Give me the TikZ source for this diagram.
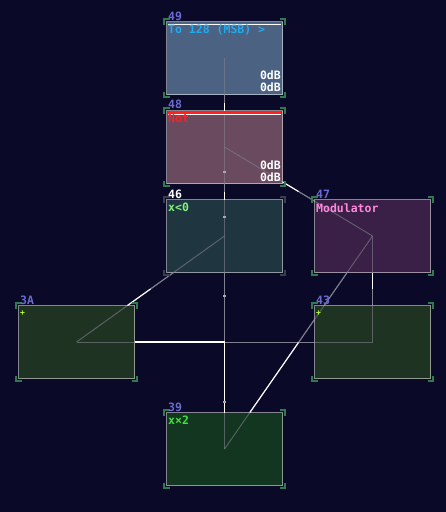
\documentclass[tikz,border=0pt]{standalone}
\usepackage{fontspec}
\newfontfamily\pix{DejaVu Sans Mono}
\usetikzlibrary{calc}
\definecolor{bg}{HTML}{0A0A28}
\definecolor{f49}{HTML}{4B6282}
\definecolor{f48}{HTML}{6A4A5E}
\definecolor{f46}{HTML}{1F3540}
\definecolor{f47}{HTML}{3A2046}
\definecolor{f3A}{HTML}{1F3322}
\definecolor{f39}{HTML}{12361F}
\definecolor{brkg}{HTML}{317A50}
\definecolor{brkd}{HTML}{3C3C50}
\definecolor{idc}{HTML}{6A6AD0}
\definecolor{wirec}{HTML}{80808E}
\definecolor{dotc}{HTML}{A8A8B8}
\definecolor{cyantx}{HTML}{22AAF0}
\definecolor{redtx}{HTML}{FF2020}
\definecolor{grn1}{HTML}{80F080}
\definecolor{grn2}{HTML}{40E040}
\definecolor{pinktx}{HTML}{FF88DD}
\definecolor{plusc}{HTML}{B0FF30}
\newcommand\modbrk[2]{%
\draw[brk,#2] ($(#1.north west)+(-2.5,3)$) -- ++(0,-5.5) -- ++(5.5,0);
\draw[brk,#2] ($(#1.north east)+(-3,-2.5)$) -- ++(5.5,0) -- ++(0,5.5);
\draw[brk,#2] ($(#1.south west)+(-2.5,-3)$) -- ++(0,5.5) -- ++(5.5,0);
\draw[brk,#2] ($(#1.south east)+(-3,2.5)$) -- ++(5.5,0) -- ++(0,-5.5);}
\begin{document}
\begin{tikzpicture}[x=1pt,y=-1pt,
  mod/.style={minimum width=116pt, minimum height=73pt, inner sep=0pt, outer sep=0pt, draw=white, draw opacity=0.5, line width=1pt},
  brk/.style={line width=2pt, line join=miter},
  wire/.style={draw=wirec, line width=1pt},
  wiredim/.style={draw=wirec, line width=1pt, draw opacity=0.6},
  wirehi/.style={draw=white, line width=1.1pt},
  pixfont/.style={font={\pix\bfseries\fontsize{11.5}{12}\selectfont}},
  idlab/.style={pixfont, anchor=base west, inner sep=0pt, text=idc},
  txt/.style={pixfont, anchor=base west, inner sep=0pt},
  db/.style={pixfont, anchor=base east, inner sep=0pt, text=white}]
\fill[bg] (0,0) rectangle (446,512);
\useasboundingbox (0,0) rectangle (446,512);
% module boxes (positions)
\path
  (224.5,58) coordinate (c49)
  (224.5,147) coordinate (c48)
  (224.5,236) coordinate (c46)
  (372.5,236) coordinate (c47)
  (76.5,342) coordinate (c3A)
  (372.5,342) coordinate (c43)
  (224.5,449) coordinate (c39);
% links under boxes
\foreach \s/\d in {49/48, 48/46, 46/39, 47/48, 43/47, 47/39, 46/3A, 43/3A}
  \draw[wire] (c\s) -- (c\d);
\node[mod, fill=f49] (b49) at (c49) {};
\node[mod, fill=f48] (b48) at (c48) {};
\node[mod, fill=f46] (b46) at (c46) {};
\node[mod, fill=f47] (b47) at (c47) {};
\node[mod, fill=f3A] (b3A) at (c3A) {};
\node[mod, fill=f3A] (b43) at (c43) {};
\node[mod, fill=f39] (b39) at (c39) {};
% links seen through boxes
\foreach \s/\d in {49/48, 48/46, 46/39, 47/48, 43/47, 47/39, 46/3A, 43/3A}
  \draw[wiredim] (b\s.center) -- (b\d.center);
% bright halves toward the destination
\foreach \s/\d in {49/48, 48/46, 46/39, 47/48, 43/47, 47/39, 46/3A, 43/3A}{
  \coordinate (m\s\d) at ($(b\s.center)!0.5!(b\d.center)$);
  \draw[wirehi] (m\s\d) -- (b\d);}
% small link dots
\foreach \yy in {172,217,296,402}
  \fill[dotc] (223.3,\yy-1.2) rectangle (225.7,\yy+1.2);
% header bars
\fill[redtx] ($(b49.north west)+(1.5,1.2)$) rectangle ($(b49.north east)+(-1.5,2.7)$);
\fill[white] ($(b49.north west)+(1.5,2.7)$) rectangle ($(b49.north east)+(-1.5,3.9)$);
\fill[redtx] ($(b48.north west)+(1.5,0.5)$) rectangle ($(b48.north east)+(-1.5,3)$);
\fill[white] ($(b48.north west)+(1.5,3)$) rectangle ($(b48.north east)+(-1.5,4.2)$);
% corner brackets
\modbrk{b49}{brkg}
\modbrk{b48}{brkg}
\modbrk{b46}{brkd}
\modbrk{b47}{brkg}
\modbrk{b3A}{brkg}
\modbrk{b43}{brkg}
\modbrk{b39}{brkg}
% id labels
\node[idlab] (l49) at ($(b49.north west)+(1.5,-1.5)$) {49};
\node[idlab] (l48) at ($(b48.north west)+(1.5,-2)$) {48};
\node[idlab, text=white] (l46) at ($(b46.north west)+(1.5,-1.5)$) {46};
\node[idlab] (l47) at ($(b47.north west)+(1.5,-1.5)$) {47};
\node[idlab] (l3A) at ($(b3A.north west)+(1.5,-1.5)$) {3A};
\node[idlab] (l43) at ($(b43.north west)+(1.5,-1.5)$) {43};
\node[idlab] (l39) at ($(b39.north west)+(1.5,-1.5)$) {39};
% texts
\node[txt, text=cyantx] (n49) at ($(b49.north west)+(1.5,11.5)$) {To 128 (MSB) >};
\node[db] (d49a) at ($(b49.north east)+(-1.5,57.5)$) {0dB};
\node[db] (d49b) at ($(b49.north east)+(-1.5,69.5)$) {0dB};
\node[txt, text=redtx] (n48) at ($(b48.north west)+(1.5,11.5)$) {Not};
\node[db] (d48a) at ($(b48.north east)+(-1.5,58.5)$) {0dB};
\node[db] (d48b) at ($(b48.north east)+(-1.5,70.5)$) {0dB};
\node[txt, text=grn1] (n46) at ($(b46.north west)+(1.5,11.5)$) {x<0};
\node[txt, text=pinktx] (n47) at ($(b47.north west)+(1.5,12.5)$) {Modulator};
\node[txt, text=grn2] (n39) at ($(b39.north west)+(1.5,11.5)$) {x×2};
\node[inner sep=0pt, text=plusc, font={\pix\bfseries\fontsize{8}{8}\selectfont}] (p3A) at ($(b3A.north west)+(4,8)$) {+};
\node[inner sep=0pt, text=plusc, font={\pix\bfseries\fontsize{8}{8}\selectfont}] (p43) at ($(b43.north west)+(4,8)$) {+};
\end{tikzpicture}
\end{document}
